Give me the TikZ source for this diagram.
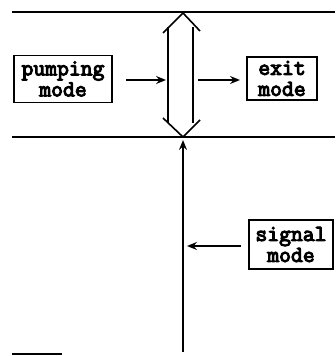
\documentclass[tikz,border=0pt]{standalone}
\usepackage{fontspec}
\newfontfamily\modefont[FakeBold=4.5]{Latin Modern Mono}
\usetikzlibrary{arrows.meta}
\begin{document}
\begin{tikzpicture}[x=1pt,y=-1pt,
  modebox/.style={draw,line width=1.1pt,inner sep=0pt,align=center,
    font=\modefont\fontsize{23}{21}\selectfont},
  arr/.style={line width=2pt,-{Stealth[length=10pt,width=8pt,inset=3.5pt]}},
  rail/.style={line width=2pt},
  dbl/.style={line width=1.6pt,line join=miter}]
\useasboundingbox (0,0) rectangle (335,356);
% horizontal lines
\coordinate (tl) at (12,12); \coordinate (tr) at (335,12);
\coordinate (bl) at (12,137); \coordinate (br) at (335,137);
\draw[rail] (tl) -- (tr);
\draw[rail] (bl) -- (br);
\coordinate (fl) at (12,354); \coordinate (fr) at (62,354);
\draw[line width=1.2pt] (fl) -- (fr);
% boxes
\node[modebox,minimum width=98pt,minimum height=47pt] (pump) at (63,79) {pumping\\mode};
\node[modebox,minimum width=70pt,minimum height=43pt] (exit) at (282,78.5) {exit\\mode};
\node[modebox,minimum width=84pt,minimum height=49pt] (sig) at (291,244.5) {signal\\mode};
% hollow double arrow
\coordinate (tt) at (183,13); \coordinate (bt) at (183,137);
\draw[dbl] (163,33) -- (tt) -- (200,31);
\draw[dbl] (163,118) -- (bt) -- (200,120);
\draw[dbl] (168,27) -- (168,123);
\draw[dbl] (193,27) -- (193,123);
% arrows
\coordinate (pa) at (126,80); \coordinate (pb) at (166,80);
\draw[arr] (pa) -- (pb);
\coordinate (ea) at (198,80); \coordinate (eb) at (240,80);
\draw[arr] (ea) -- (eb);
\coordinate (sa) at (241,246); \coordinate (sb) at (187,246);
\draw[arr] (sa) -- (sb);
\coordinate (va) at (183,352); \coordinate (vb) at (183,140);
\draw[arr] (va) -- (vb);
\end{tikzpicture}
\end{document}
